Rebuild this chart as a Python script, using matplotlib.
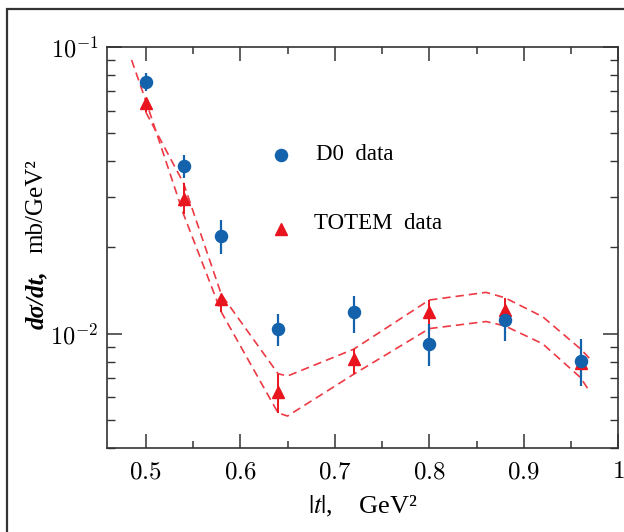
import math

import matplotlib

matplotlib.use("Agg")

import matplotlib.pyplot as plt
from matplotlib.patches import Rectangle
from matplotlib.ticker import FixedLocator, FuncFormatter, LogLocator, NullFormatter

# D0 measurement, |t| in GeV^2 and dsigma/dt in mb/GeV^2
d0_t = [0.50, 0.54, 0.58, 0.64, 0.72, 0.80, 0.88, 0.96]
d0_val = [0.0752, 0.0384, 0.0220, 0.01038, 0.01187, 0.00925, 0.01116, 0.00807]
d0_lo = [0.0700, 0.0348, 0.0190, 0.00908, 0.01010, 0.00773, 0.00945, 0.00658]
d0_hi = [0.0813, 0.0419, 0.0250, 0.01172, 0.01358, 0.01081, 0.01236, 0.00958]

# TOTEM points at the same |t|
totem_t = [0.50, 0.54, 0.58, 0.64, 0.72, 0.80, 0.88, 0.96]
totem_val = [0.0639, 0.0296, 0.0132, 0.00627, 0.00815, 0.01187, 0.0121, 0.0079]
totem_lo = [0.0593, 0.0261, 0.0119, 0.0053, 0.00723, 0.01043, 0.01066, 0.00704]
totem_hi = [0.0660, 0.0335, 0.0137, 0.00726, 0.00884, 0.01312, 0.01336, 0.00886]

# dashed uncertainty band edges
band_a_t = [0.485, 0.50, 0.54, 0.58, 0.64, 0.65, 0.72, 0.80, 0.86, 0.88, 0.92, 0.96, 0.97]
band_a_val = [0.0901, 0.0650, 0.0261, 0.0119, 0.0053, 0.00517, 0.00723, 0.01043,
              0.01104, 0.01066, 0.00923, 0.00704, 0.00627]
band_b_t = [0.50, 0.54, 0.58, 0.64, 0.65, 0.72, 0.80, 0.86, 0.88, 0.92, 0.96, 0.97]
band_b_val = [0.0593, 0.0335, 0.0137, 0.00726, 0.00713, 0.00884, 0.01312, 0.01395,
              0.01336, 0.01147, 0.00886, 0.00818]

x_ticks = [0.5, 0.6, 0.7, 0.8, 0.9, 1.0]
x_minor = [0.55, 0.65, 0.75, 0.85, 0.95]

BLUE = "#1462ac"
RED = "#e8141e"
BAND = "#ee3a44"
SERIF = "Liberation Serif"


def _asym_err(vals, lo, hi):
    return [[v - a for v, a in zip(vals, lo)], [b - v for v, b in zip(vals, hi)]]


plt.rcParams["mathtext.fontset"] = "cm"
plt.rcParams["axes.edgecolor"] = "#333333"

fig = plt.figure(figsize=(6.24, 5.32), dpi=100)
ax = fig.add_axes([0.1715, 0.1579, 0.8194, 0.7538])

ax.plot(band_a_t, band_a_val, color=BAND, lw=1.2, ls=(0, (5, 3)))
ax.plot(band_b_t, band_b_val, color=BAND, lw=1.2, ls=(0, (5, 3)))

ax.errorbar(totem_t, totem_val, yerr=_asym_err(totem_val, totem_lo, totem_hi),
            fmt="^", color=RED, ms=8.5, elinewidth=1.4, capsize=0)
ax.errorbar(d0_t, d0_val, yerr=_asym_err(d0_val, d0_lo, d0_hi),
            fmt="o", color=BLUE, ms=8.7, elinewidth=1.6, capsize=0)

ax.set_yscale("log")
ax.set_xlim(0.459, 1.0)
ax.set_ylim(0.004, 0.1)

ax.xaxis.set_major_locator(FixedLocator(x_ticks))
ax.xaxis.set_minor_locator(FixedLocator(x_minor))
ax.xaxis.set_major_formatter(FuncFormatter(lambda v, _: f"${v:g}$"))
ax.yaxis.set_major_locator(LogLocator(base=10))
ax.yaxis.set_minor_locator(LogLocator(base=10, subs=range(2, 10)))
ax.yaxis.set_major_formatter(
    FuncFormatter(lambda v, _: f"$10^{{{int(round(math.log10(v)))}}}$")
)
ax.yaxis.set_minor_formatter(NullFormatter())

ax.tick_params(which="both", direction="in", top=True, right=True, color="#333333")
ax.tick_params(axis="x", which="major", length=10, width=1.1, labelsize=18, pad=8)
ax.tick_params(axis="x", which="minor", length=5, width=1.1)
ax.tick_params(axis="y", which="major", length=11, width=1.1, labelsize=17.5, pad=6)
ax.tick_params(axis="y", which="minor", length=5.5, width=1.0)
for spine in ax.spines.values():
    spine.set_linewidth(1.2)

# hand-placed key
ax.plot([0.3403], [0.7307], "o", color=BLUE, ms=8.7, transform=ax.transAxes)
ax.plot([0.3403], [0.5461], "^", color=RED, ms=8.5, transform=ax.transAxes)
ax.text(0.4088, 0.7307, "D0  data", transform=ax.transAxes, ha="left",
        va="center", family=SERIF, fontsize=16.5)
ax.text(0.4057, 0.5603, "TOTEM  data", transform=ax.transAxes, ha="left",
        va="center", family=SERIF, fontsize=16.5)

ax.set_xlabel(r"$|t|$,    GeV²", family=SERIF, fontsize=19, labelpad=8,
              math_fontfamily="stix")

fig.text(0.058, 1 - 300 / 532, "dσ/dt,", rotation=90, ha="center", va="center",
         family=SERIF, fontsize=18, fontweight="bold", fontstyle="italic")
fig.text(0.058, 1 - 206 / 532, "mb/GeV²", rotation=90, ha="center", va="center",
         family=SERIF, fontsize=18)

fig.patches.append(
    Rectangle((7.3 / 624, -0.1), 1.2, 0.1 + 1 - 9.3 / 532, transform=fig.transFigure,
              fill=False, lw=1.6, edgecolor="#333333")
)

fig.savefig("out.png", dpi=100)
